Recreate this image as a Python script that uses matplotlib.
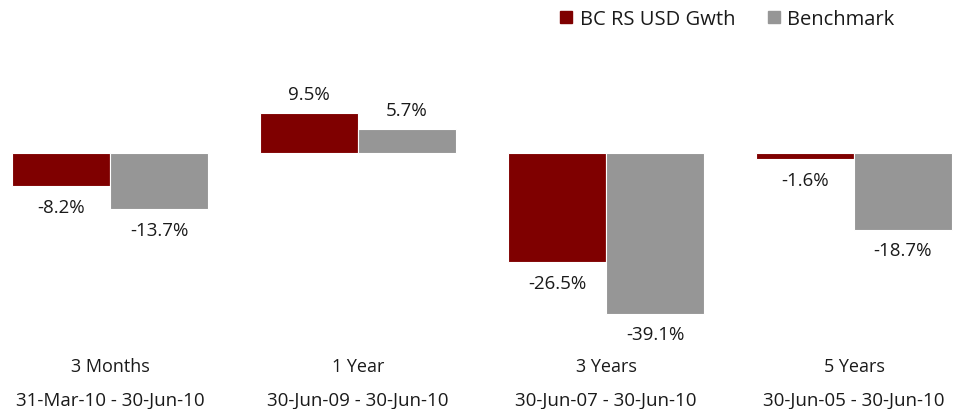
import matplotlib
matplotlib.use("Agg")
import matplotlib.pyplot as plt
from matplotlib.lines import Line2D
import numpy as np

categories = ["3 Months", "1 Year", "3 Years", "5 Years"]
periods = ["31-Mar-10 - 30-Jun-10", "30-Jun-09 - 30-Jun-10",
           "30-Jun-07 - 30-Jun-10", "30-Jun-05 - 30-Jun-10"]
series_names = ["BC RS USD Gwth", "Benchmark"]
fund = [-8.2, 9.5, -26.5, -1.6]
bench = [-13.7, 5.7, -39.1, -18.7]

RED = "#7F0000"
GREY = "#969696"
TXT = "#1a1a1a"

plt.rcParams['font.family'] = ['Open Sans', 'DejaVu Sans']

fig = plt.figure(figsize=(9.66, 4.10), dpi=100)
ax = fig.add_axes([0, 0, 1, 1])
ax.set_xlim(-0.4435, 3.4516)
ax.set_ylim(-62.26, 37.26)
ax.axis('off')

x = np.arange(len(categories))
w = 0.395
b1 = ax.bar(x - w / 2, fund, width=w, color=RED, edgecolor='white', linewidth=0.8)
b2 = ax.bar(x + w / 2, bench, width=w, color=GREY, edgecolor='white', linewidth=0.8)

for bars, vals in ((b1, fund), (b2, bench)):
    for rect, v in zip(bars, vals):
        cx = rect.get_x() + rect.get_width() / 2
        off = 14 if v >= 0 else -15
        ax.annotate(f"{v:.1f}%", (cx, v), xytext=(0, off), textcoords='offset points',
                    ha='center', va='center', fontsize=13.5, color=TXT)

trans = ax.get_xaxis_transform()
for xi, c, p in zip(x, categories, periods):
    ax.text(xi, 0.1056, c, transform=trans, ha='center', va='center', fontsize=13, color=TXT)
    ax.text(xi, 0.022, p, transform=trans, ha='center', va='center', fontsize=13.5, color=TXT)

handles = [Line2D([], [], marker='s', linestyle='none', color=RED, markersize=8),
           Line2D([], [], marker='s', linestyle='none', color=GREY, markersize=8)]
fig.legend(handles, series_names, loc='center left', bbox_to_anchor=(0.578, 0.951),
           ncol=2, frameon=False, fontsize=14.5, handlelength=0.8, handletextpad=0.27,
           columnspacing=1.5, borderaxespad=0, borderpad=0, labelcolor=TXT)

fig.savefig("out.png", dpi=100)
